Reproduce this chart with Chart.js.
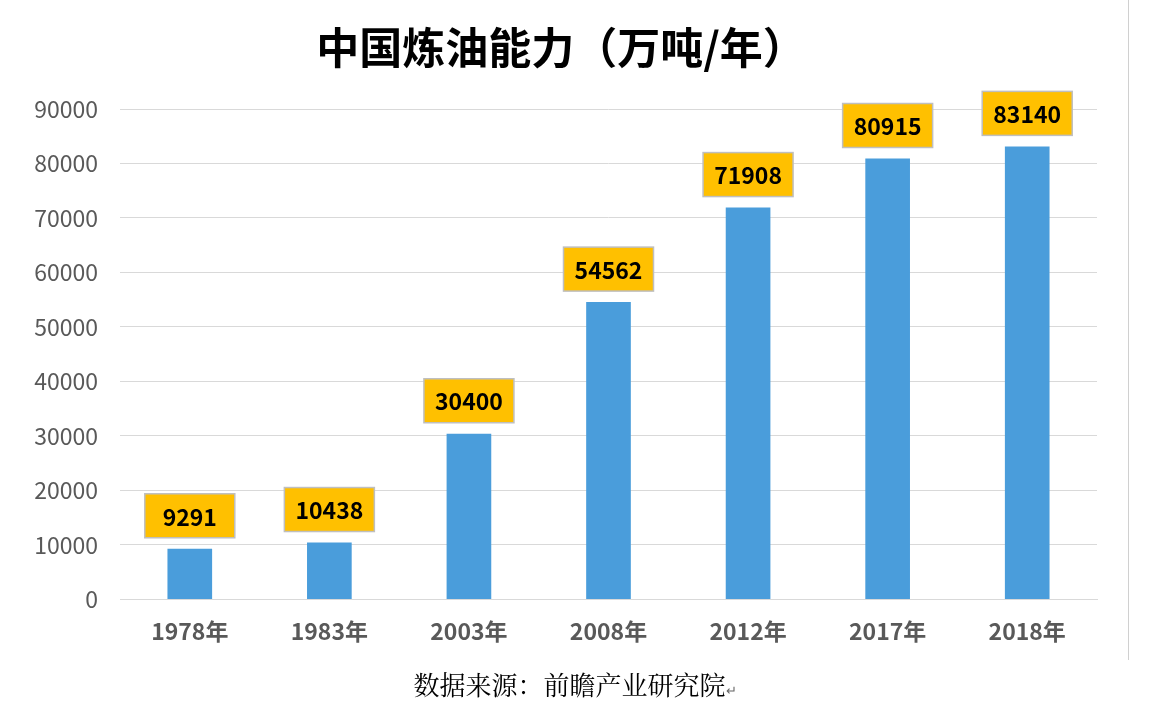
<!DOCTYPE html>
<html><head><meta charset="utf-8">
<script src="https://cdn.jsdelivr.net/npm/chart.js@4"></script>
<style>
body{margin:0;background:#fff;font-family:"Noto Sans CJK SC",sans-serif;}
#wrap{position:relative;width:1156px;height:726px;}
#title{position:absolute;left:1px;width:1120px;top:14px;text-align:center;font-size:43px;font-weight:bold;color:#000;}
#src{position:absolute;left:0;width:1150px;top:665px;text-align:center;font-size:26px;color:#000;font-family:"Noto Serif CJK SC","Noto Sans CJK SC",serif;}
#vline{position:absolute;left:1128px;top:0;width:1px;height:660px;background:#d0d0d0;}
</style></head><body>
<div id="wrap">
<canvas id="c" width="1156" height="726"></canvas>
<div id="title">中国炼油能力（万吨/年）</div>
<div id="src">数据来源：前瞻产业研究院<span style="font-size:13px;color:#666">↵</span></div>
<div id="vline"></div>
</div>
<script>
const categories=["1978年","1983年","2003年","2008年","2012年","2017年","2018年"];
const values=[9291,10438,30400,54562,71908,80915,83140];
const yTicks=[0,10000,20000,30000,40000,50000,60000,70000,80000,90000];
const labelPlugin={id:'lbl',afterDatasetsDraw(chart){
 const ctx=chart.ctx;const meta=chart.getDatasetMeta(0);
 ctx.save();ctx.font='bold 23px "Noto Sans CJK SC",sans-serif';ctx.textAlign='center';ctx.textBaseline='middle';
 meta.data.forEach((b,i)=>{const w=90,h=44;const x=b.x-w/2,y=b.y-11-h;
  ctx.fillStyle='#FFC000';ctx.fillRect(x,y,w,h);ctx.strokeStyle='#BFBFBF';ctx.lineWidth=1.5;ctx.strokeRect(x,y,w,h);
  ctx.fillStyle='#000';ctx.fillText(String(values[i]),b.x,y+h/2+1);});
 ctx.restore();}};
new Chart(document.getElementById('c'),{type:'bar',
 data:{labels:categories,datasets:[{data:values,backgroundColor:'#4A9DDB',barPercentage:0.64,categoryPercentage:0.5}]},
 options:{responsive:false,animation:false,
  layout:{padding:{left:0,right:59,top:109,bottom:71}},
  plugins:{legend:{display:false},tooltip:{enabled:false}},
  scales:{
   x:{grid:{display:false},border:{color:'#D9D9D9'},ticks:{color:'#595959',font:{size:23,weight:'bold',family:'"Noto Sans CJK SC"'},padding:10}},
   y:{min:0,max:90000,afterBuildTicks(s){s.ticks=yTicks.map(v=>({value:v}));},afterFit(s){s.width=120;},
      grid:{color:'#D9D9D9',drawTicks:false},border:{display:false},
      ticks:{color:'#595959',padding:22,font:{size:23,family:'"Noto Sans CJK SC"'},callback:v=>String(v)}}
  }},plugins:[labelPlugin]});
</script></body></html>
